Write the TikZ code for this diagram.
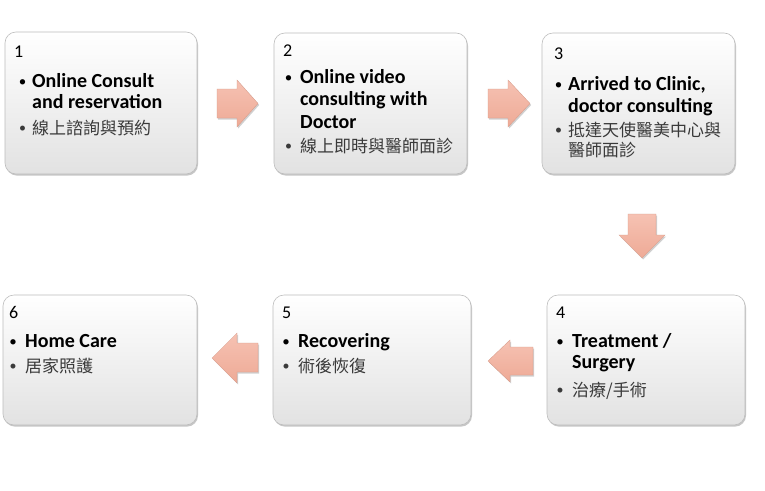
\documentclass[tikz,border=0pt]{standalone}
\usepackage{fontspec}
\setmainfont{Carlito}
\newfontfamily\cjk{Noto Sans CJK TC}
\usetikzlibrary{shadows}
\definecolor{boxline}{HTML}{BDBDBD}
\definecolor{boxbot}{HTML}{E2E2E2}
\definecolor{arrtop}{HTML}{F6C2B3}
\definecolor{arrbot}{HTML}{EEAA96}
\definecolor{cjkcol}{HTML}{3A3A3A}
\tikzset{
  box/.style={draw=boxline, line width=0.6pt, rounded corners=11pt, anchor=north west,
    top color=white, middle color=white, bottom color=boxbot, inner sep=0pt, outer sep=0pt,
    drop shadow={shadow xshift=1pt, shadow yshift=-1.6pt, opacity=0.4, fill=black!55}},
  numtxt/.style={anchor=base west, inner sep=0pt, font=\fontsize{18}{20}\selectfont},
  boldtxt/.style={anchor=base west, inner sep=0pt, font=\fontsize{20}{22}\selectfont\bfseries},
  cjktxt/.style={anchor=base west, inner sep=0pt, text=cjkcol, font=\fontsize{17}{20}\selectfont\cjk},
  bul/.style={anchor=base, inner sep=0pt, font=\fontsize{15}{18}\selectfont},
  cjkbul/.style={anchor=base, inner sep=0pt, text=cjkcol, font=\fontsize{14}{18}\selectfont},
  blockarrow/.style={top color=arrtop, bottom color=arrbot, draw=arrbot!90!black, line width=0.3pt,
    drop shadow={shadow xshift=1.2pt, shadow yshift=-1.5pt, opacity=0.3, fill=black!60}}
}
\begin{document}
\begin{tikzpicture}[x=1pt,y=-1pt]
\useasboundingbox[fill=white] (0,0) rectangle (765,490);

% boxes
\node[box, minimum width=192pt, minimum height=142pt] (b1) at (5,32) {};
\node[box, minimum width=193pt, minimum height=141pt] (b2) at (274,33) {};
\node[box, minimum width=193pt, minimum height=141pt] (b3) at (542,33) {};
\node[box, minimum width=198pt, minimum height=130pt] (b4) at (547,295) {};
\node[box, minimum width=198pt, minimum height=130pt] (b5) at (273,295) {};
\node[box, minimum width=194pt, minimum height=130pt] (b6) at (3,295) {};

% box 1
\node[numtxt] (n1) at (14,57) {1};
\node[bul] (u1a) at (22.5,86) {•};
\node[boldtxt] (t1a) at (32,87) {Online Consult};
\node[boldtxt] (t1b) at (32,108) {and reservation};
\node[cjkbul] (u1b) at (22.5,132) {•};
\node[cjktxt] (c1) at (32,134) {線上諮詢與預約};

% box 2
\node[numtxt] (n2) at (283,56) {2};
\node[bul] (u2a) at (288.5,82) {•};
\node[boldtxt] (t2a) at (300,83) {Online video};
\node[boldtxt] (t2b) at (300,105) {consulting with};
\node[boldtxt] (t2c) at (300,128) {Doctor};
\node[cjkbul] (u2b) at (288.5,150) {•};
\node[cjktxt] (c2) at (300,152) {線上即時與醫師面診};

% box 3
\node[numtxt] (n3) at (554,59) {3};
\node[bul] (u3a) at (558.5,89) {•};
\node[boldtxt] (t3a) at (568,90) {Arrived to Clinic,};
\node[boldtxt] (t3b) at (568,112) {doctor consulting};
\node[cjkbul] (u3b) at (558.5,134) {•};
\node[cjktxt] (c3a) at (568,136) {抵達天使醫美中心與};
\node[cjktxt] (c3b) at (568,156) {醫師面診};

% box 4
\node[numtxt] (n4) at (556,318) {4};
\node[bul] (u4a) at (560,346) {•};
\node[boldtxt] (t4a) at (572,347) {Treatment /};
\node[boldtxt] (t4b) at (572,368) {Surgery};
\node[cjkbul] (u4b) at (560,394) {•};
\node[cjktxt] (c4) at (572,396) {治療/手術};

% box 5
\node[numtxt] (n5) at (282,318) {5};
\node[bul] (u5a) at (286,346) {•};
\node[boldtxt] (t5a) at (298,347) {Recovering};
\node[cjkbul] (u5b) at (286,370) {•};
\node[cjktxt] (c5) at (298,372) {術後恢復};

% box 6
\node[numtxt] (n6) at (9,318) {6};
\node[bul] (u6a) at (13,346) {•};
\node[boldtxt] (t6a) at (25,347) {Home Care};
\node[cjkbul] (u6b) at (13,370) {•};
\node[cjktxt] (c6) at (25,372) {居家照護};

% block arrows
\path[blockarrow] (217,89) -- (237,89) -- (237,80) -- (258,103.5) -- (237,127) -- (237,118) -- (217,118) -- cycle;
\path[blockarrow] (488,89) -- (508,89) -- (508,80) -- (530,103.5) -- (508,127) -- (508,118) -- (488,118) -- cycle;
\path[blockarrow] (628,214) -- (656,214) -- (656,235) -- (665,235) -- (642,258) -- (619,235) -- (628,235) -- cycle;
\path[blockarrow] (533,347) -- (510,347) -- (510,340) -- (488,361) -- (510,382) -- (510,375) -- (533,375) -- cycle;
\path[blockarrow] (258,343) -- (237,343) -- (237,333) -- (212,358) -- (237,383) -- (237,372) -- (258,372) -- cycle;
\end{tikzpicture}
\end{document}
